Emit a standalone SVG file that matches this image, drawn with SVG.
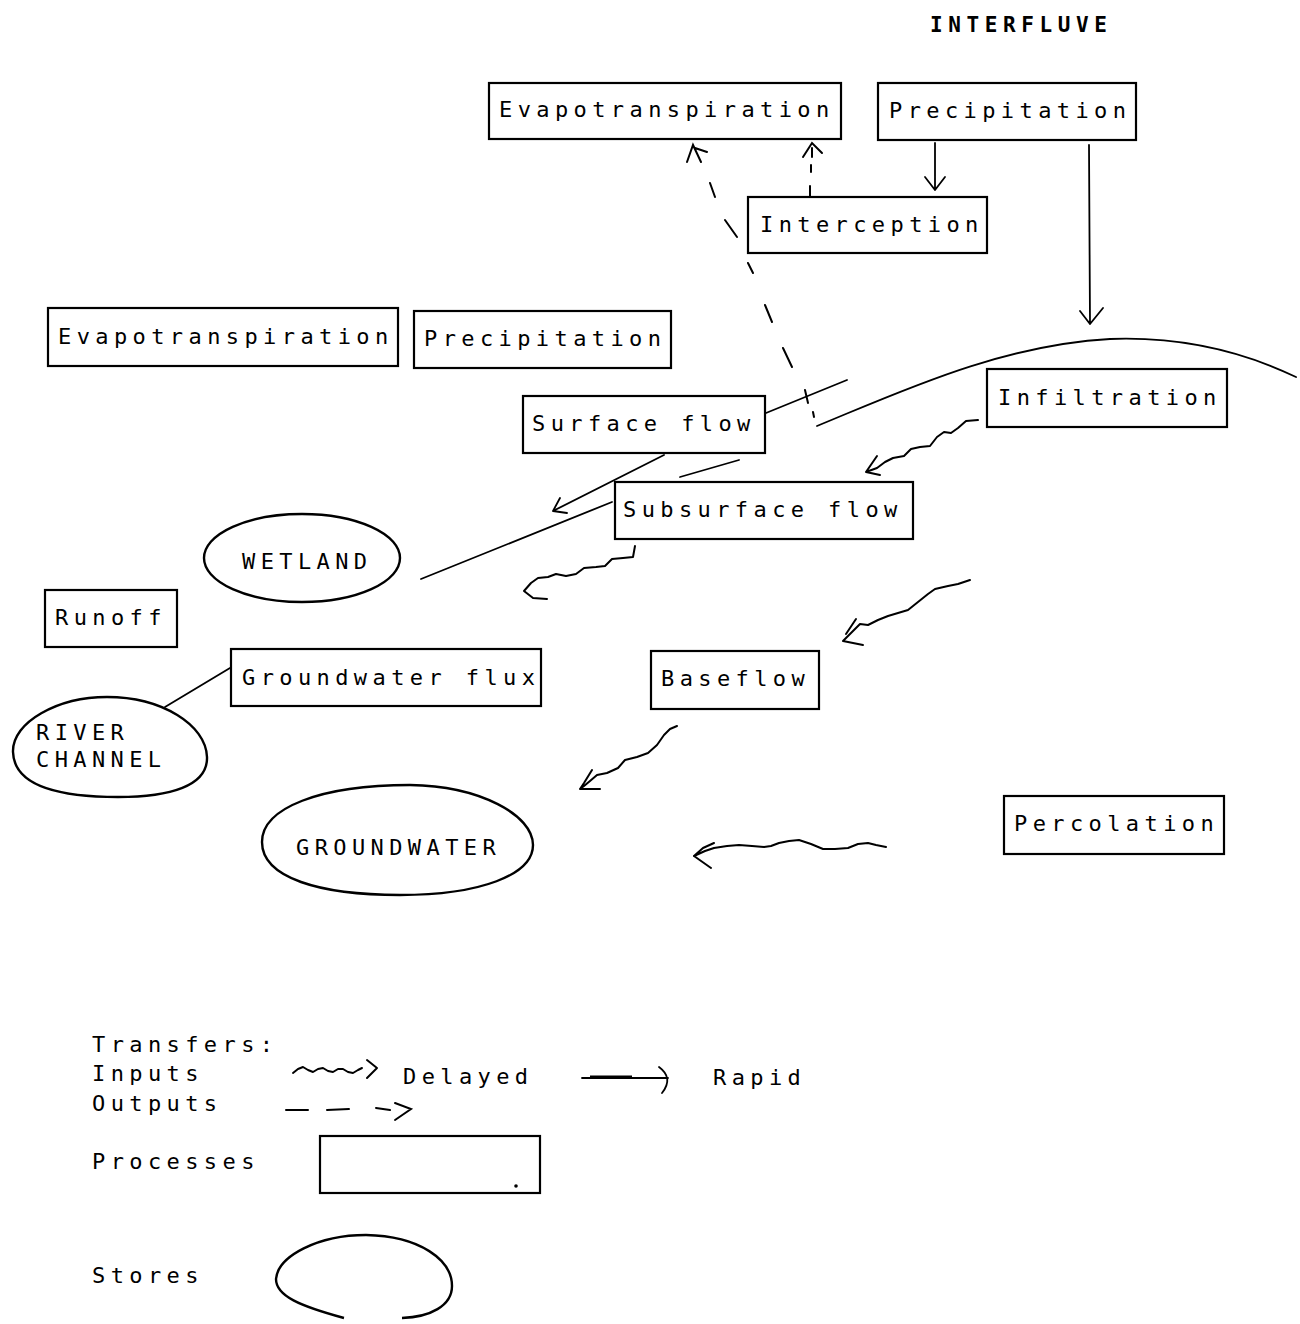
<svg xmlns="http://www.w3.org/2000/svg" width="1300" height="1324" viewBox="0 0 1300 1324">
<style>
  .bg{fill:#ffffff}
  .box{fill:none;stroke:#000;stroke-width:2.2}
  .store{fill:none;stroke:#000;stroke-width:2.4}
  .t{font-family:"DejaVu Sans Mono","Liberation Mono",monospace;font-size:22px;letter-spacing:5.4px;fill:#000}
  .tb{font-family:"DejaVu Sans Mono","Liberation Mono",monospace;font-size:21px;font-weight:bold;letter-spacing:5.6px;fill:#000}
  .ln{fill:none;stroke:#000;stroke-width:1.8;stroke-linecap:round;stroke-linejoin:round}
  .wv{fill:none;stroke:#000;stroke-width:2;stroke-linecap:round;stroke-linejoin:round}
  .ds{fill:none;stroke:#000;stroke-width:2;stroke-linecap:round}
</style>
<rect class="bg" x="0" y="0" width="1300" height="1324"/>

<text class="tb" x="930" y="32">INTERFLUVE</text>

<g id="node-evapotranspiration-top"><rect class="box" x="489" y="83" width="352" height="56"/><text class="t" x="499" y="117">Evapotranspiration</text></g>
<g id="node-precipitation-top"><rect class="box" x="878" y="83" width="258" height="57"/><text class="t" x="889" y="118">Precipitation</text></g>
<g id="node-interception"><rect class="box" x="748" y="197" width="239" height="56"/><text class="t" x="760" y="232">Interception</text></g>
<g id="node-evapotranspiration-left"><rect class="box" x="48" y="308" width="350" height="58"/><text class="t" x="58" y="344">Evapotranspiration</text></g>
<g id="node-precipitation-left"><rect class="box" x="414" y="311" width="257" height="57"/><text class="t" x="424" y="346">Precipitation</text></g>
<g id="node-surface-flow"><rect class="box" x="523" y="396" width="242" height="57"/><text class="t" x="532" y="431">Surface flow</text></g>
<g id="node-infiltration"><rect class="box" x="987" y="369" width="240" height="58"/><text class="t" x="998" y="405">Infiltration</text></g>
<g id="node-subsurface-flow"><rect class="box" x="615" y="482" width="298" height="57"/><text class="t" x="623" y="517">Subsurface flow</text></g>
<g id="node-wetland"><ellipse class="store" cx="302" cy="558" rx="98" ry="44"/><text class="t" x="242" y="569">WETLAND</text></g>
<g id="node-runoff"><rect class="box" x="45" y="590" width="132" height="57"/><text class="t" x="55" y="625">Runoff</text></g>
<g id="node-groundwater-flux"><rect class="box" x="231" y="649" width="310" height="57"/><text class="t" x="242" y="685">Groundwater flux</text></g>
<g id="node-river-channel"><path class="store" d="M13,752 C12,722 58,697 107,697 C162,697 206,725 207,757 C208,786 170,797 118,797 C58,797 14,786 13,752 Z"/><text class="t" x="36" y="740">RIVER</text><text class="t" x="36" y="767">CHANNEL</text></g>
<g id="node-baseflow"><rect class="box" x="651" y="651" width="168" height="58"/><text class="t" x="661" y="686">Baseflow</text></g>
<g id="node-groundwater"><path class="store" d="M262,842 C262,808 320,785 410,785 C480,786 533,815 533,845 C533,875 480,895 400,895 C320,895 262,878 262,842 Z"/><text class="t" x="296" y="855">GROUNDWATER</text></g>
<g id="node-percolation"><rect class="box" x="1004" y="796" width="220" height="58"/><text class="t" x="1014" y="831">Percolation</text></g>

<g id="connectors">
  <!-- rapid: precipitation -> interception -->
  <path class="ln" d="M935,143 L935,190 M925,177 L935,190 L945,177"/>
  <!-- rapid: precipitation -> ground -->
  <path class="ln" d="M1089,145 L1090,324 M1080,311 L1090,324 L1103,308"/>
  <!-- dashed: interception -> evapotranspiration -->
  <path class="ds" d="M810,197 L810,186 M811,172 L811,165 M812,157 L812,148 M803,157 L812,143 L822,153"/>
  <!-- dashed: surface -> evapotranspiration -->
  <path class="ds" d="M814,417 L813,412 M808,403 L805,390 M792,367 L783,348 M772,322 L765,305 M753,273 L748,263 M737,237 L725,220 M715,197 L710,183 M687,162 L693,145 L701,162 M695,148 L707,152"/>
  <!-- ground surface -->
  <path class="ln" d="M421,579 L612,502"/>
  <path class="ln" d="M680,477 L739,460"/>
  <path class="ln" d="M766,413 L847,380"/>
  <path class="ln" d="M817,426 C900,392 1000,345 1110,339 C1190,336 1250,355 1296,377"/>
  <!-- rapid: surface flow -> down -->
  <path class="ln" d="M664,455 L553,511 M560,498 L553,511 L567,513"/>
  <!-- delayed: infiltration -> subsurface -->
  <path class="wv" d="M978,420 L966,421 L958,428 L951,433 L944,432 L937,437 L930,446 L920,447 L911,449 L904,456 L893,458 L885,462 L877,468 L866,472 M877,456 L866,472 L880,475"/>
  <!-- delayed: subsurface -> down-left -->
  <path class="wv" d="M635,546 L633,557 L623,558 L612,559 L605,566 L596,567 L584,568 L576,574 L566,576 L556,574 L548,577 L538,578 L531,583 L524,591 L533,598 L547,599"/>
  <!-- delayed: toward baseflow -->
  <path class="wv" d="M970,580 L958,584 L948,586 L935,589 L928,594 L918,602 L908,610 L898,613 L888,616 L878,620 L868,625 L860,624 L843,641 L863,645 M856,619 L846,634"/>
  <!-- delayed: baseflow -> groundwater -->
  <path class="wv" d="M677,726 L670,729 L664,735 L657,745 L648,753 L637,757 L625,760 L618,768 L607,773 L597,775 L590,781 L584,786 L580,789 M592,770 L584,783 L580,789 L600,789"/>
  <!-- delayed: percolation -> groundwater -->
  <path class="wv" d="M886,847 L876,845 L868,843 L858,844 L848,848 L835,849 L823,849 L811,844 L799,840 L789,841 L779,843 L771,846 L764,847 L752,846 L739,845 L727,846 L714,848 L705,851 L694,856 M714,843 L703,848 L694,856 L711,868"/>
  <!-- groundwater flux -> river channel -->
  <path class="ln" d="M230,668 L165,707"/>
</g>

<g id="legend">
  <text class="t" x="92" y="1052">Transfers:</text>
  <text class="t" x="92" y="1081">Inputs</text>
  <path class="wv" d="M293,1073 L298,1069 L303,1067 L308,1070 L313,1072 L318,1069 L323,1068 L328,1071 L333,1072 L338,1069 L343,1069 L348,1072 L353,1073 L358,1070 L362,1068 M367,1060 L377,1068 L367,1078"/>
  <text class="t" x="403" y="1084">Delayed</text>
  <path class="ln" d="M582,1078 L668,1078 M659,1067 Q674,1078 662,1093"/>
  <path d="M590,1077 L632,1077" stroke="#000" stroke-width="3"/>
  <text class="t" x="713" y="1085">Rapid</text>
  <text class="t" x="92" y="1111">Outputs</text>
  <path class="ds" d="M286,1110 L308,1110 M327,1110 L349,1109 M376,1108 L390,1110 M395,1103 L411,1109 L395,1120"/>
  <text class="t" x="92" y="1169">Processes</text>
  <rect class="box" x="320" y="1136" width="220" height="57"/>
  <circle cx="516" cy="1186" r="1.8" fill="#000"/>
  <text class="t" x="92" y="1283">Stores</text>
  <path class="store" d="M344,1318 C300,1306 276,1296 276,1279 C278,1256 318,1235 366,1235 C420,1236 452,1260 452,1286 C452,1306 430,1317 402,1318"/>
</g>
</svg>
